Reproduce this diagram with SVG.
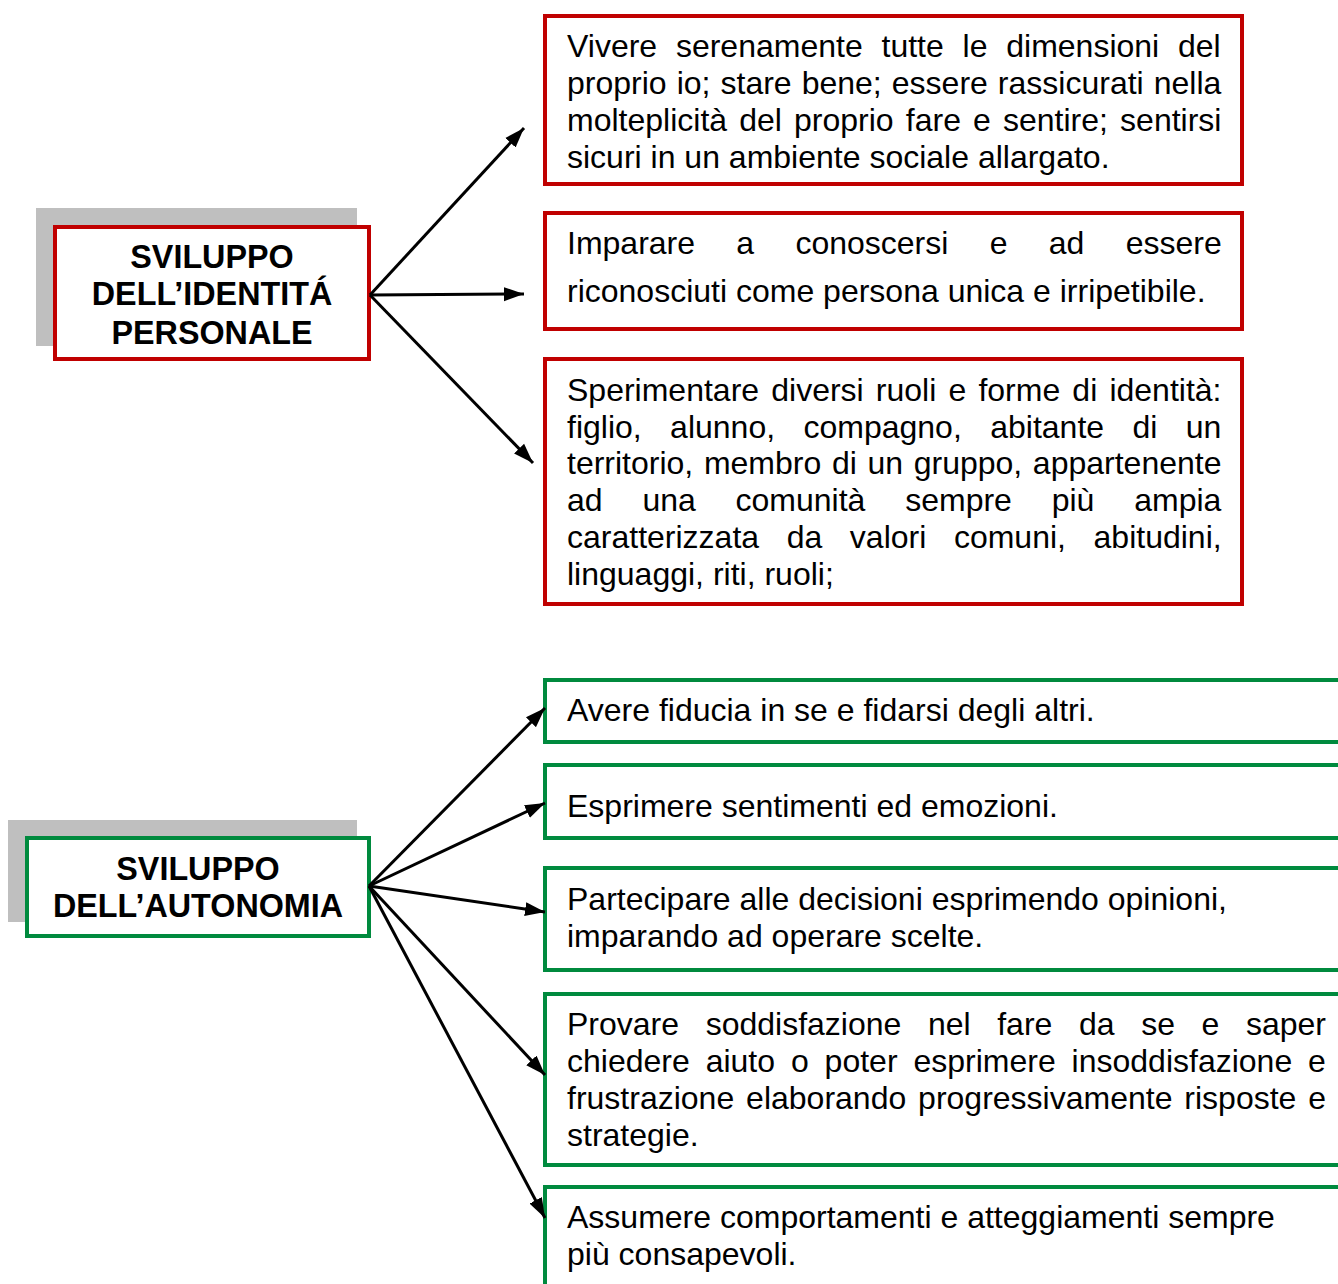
<svg xmlns="http://www.w3.org/2000/svg" width="1338" height="1284" viewBox="0 0 1338 1284">
<style>
.t{font-family:"Liberation Sans",Arial,sans-serif;font-size:32px;fill:#000}
.b{font-family:"Liberation Sans",Arial,sans-serif;font-size:32.3px;font-weight:bold;fill:#000;text-anchor:middle}
.rb{fill:#fff;stroke:#C00000;stroke-width:4}
.gb{fill:#fff;stroke:#008A3E;stroke-width:4}
.sh{fill:#BFBFBF}
.c{stroke:#000;stroke-width:3;fill:none;marker-end:url(#ah)}
</style>
<defs>
<marker id="ah" markerUnits="userSpaceOnUse" markerWidth="22" markerHeight="16" refX="20" refY="8" orient="auto" viewBox="0 0 22 16">
<path d="M0,1 L20,8 L0,15 z" fill="#000"/>
</marker>
</defs>
<rect width="1338" height="1284" fill="#fff"/>
<g id="node-identita">
<rect class="sh" x="36" y="208" width="321" height="138"/>
<rect class="rb" x="55" y="227" width="314" height="132"/>
<text class="b" x="212" y="268">SVILUPPO</text>
<text class="b" x="212" y="305">DELL’IDENTITÁ</text>
<text class="b" x="212" y="344">PERSONALE</text>
</g>
<g id="node-autonomia">
<rect class="sh" x="8" y="820" width="349" height="102"/>
<rect class="gb" x="27" y="838" width="342" height="98"/>
<text class="b" x="198" y="880">SVILUPPO</text>
<text class="b" x="198" y="917">DELL’AUTONOMIA</text>
</g>
<g id="box-r1">
<rect class="rb" x="545" y="16" width="697" height="168"/>
<text class="t" x="567" y="57" word-spacing="9.9">Vivere serenamente tutte le dimensioni del</text>
<text class="t" x="567" y="94" word-spacing="1.15">proprio io; stare bene; essere rassicurati nella</text>
<text class="t" x="567" y="131" word-spacing="3.25">molteplicità del proprio fare e sentire; sentirsi</text>
<text class="t" x="567" y="168">sicuri in un ambiente sociale allargato.</text>
</g>
<g id="box-r2">
<rect class="rb" x="545" y="213" width="697" height="116"/>
<text class="t" x="567" y="254" word-spacing="32.4">Imparare a conoscersi e ad essere</text>
<text class="t" x="567" y="302">riconosciuti come persona unica e irripetibile.</text>
</g>
<g id="box-r3">
<rect class="rb" x="545" y="359" width="697" height="245"/>
<text class="t" x="567" y="401" word-spacing="3.25">Sperimentare diversi ruoli e forme di identità:</text>
<text class="t" x="567" y="438" word-spacing="19.5">figlio, alunno, compagno, abitante di un</text>
<text class="t" x="567" y="474" word-spacing="1.75">territorio, membro di un gruppo, appartenente</text>
<text class="t" x="567" y="511" word-spacing="30.9">ad una comunità sempre più ampia</text>
<text class="t" x="567" y="548" word-spacing="18.7">caratterizzata da valori comuni, abitudini,</text>
<text class="t" x="567" y="585">linguaggi, riti, ruoli;</text>
</g>
<g id="box-g1">
<rect class="gb" x="545" y="680" width="800" height="62"/>
<text class="t" x="567" y="721">Avere fiducia in se e fidarsi degli altri.</text>
</g>
<g id="box-g2">
<rect class="gb" x="545" y="765" width="800" height="73"/>
<text class="t" x="567" y="817">Esprimere sentimenti ed emozioni.</text>
</g>
<g id="box-g3">
<rect class="gb" x="545" y="868" width="800" height="102"/>
<text class="t" x="567" y="910">Partecipare alle decisioni esprimendo opinioni,</text>
<text class="t" x="567" y="947">imparando ad operare scelte.</text>
</g>
<g id="box-g4">
<rect class="gb" x="545" y="994" width="800" height="171"/>
<text class="t" x="567" y="1035" word-spacing="17.7">Provare soddisfazione nel fare da se e saper</text>
<text class="t" x="567" y="1072" word-spacing="7.0">chiedere aiuto o poter esprimere insoddisfazione e</text>
<text class="t" x="567" y="1109" word-spacing="3.0">frustrazione elaborando progressivamente risposte e</text>
<text class="t" x="567" y="1146">strategie.</text>
</g>
<g id="box-g5">
<rect class="gb" x="545" y="1187" width="800" height="120"/>
<text class="t" x="567" y="1228">Assumere comportamenti e atteggiamenti sempre</text>
<text class="t" x="567" y="1265">più consapevoli.</text>
</g>
<g id="connectors">
<line class="c" x1="370" y1="295" x2="524" y2="128"/>
<line class="c" x1="370" y1="295" x2="524" y2="294"/>
<line class="c" x1="370" y1="295" x2="533" y2="463"/>
<line class="c" x1="369" y1="886" x2="545" y2="708"/>
<line class="c" x1="369" y1="886" x2="545" y2="803"/>
<line class="c" x1="369" y1="886" x2="545" y2="912"/>
<line class="c" x1="369" y1="886" x2="545" y2="1075"/>
<line class="c" x1="369" y1="886" x2="545" y2="1218"/>
</g>
</svg>
